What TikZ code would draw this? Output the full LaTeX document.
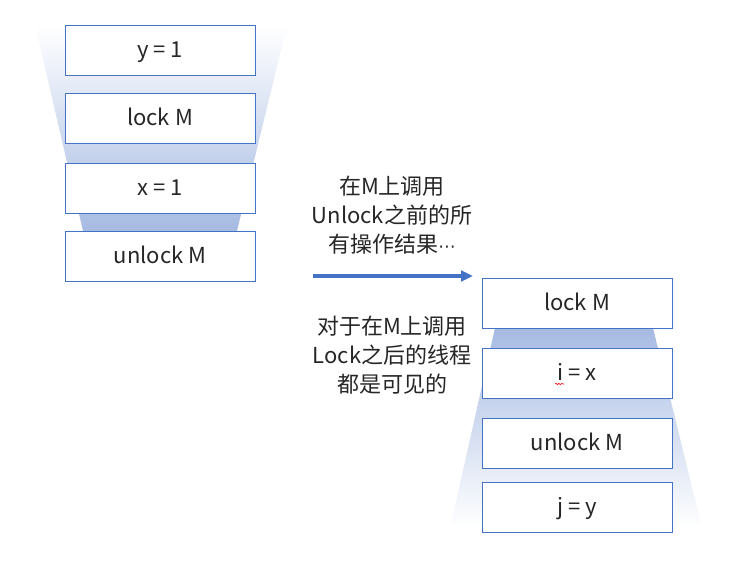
\documentclass[tikz,border=0pt]{standalone}
\usepackage{fontspec}
\setmainfont{Noto Sans CJK SC}
\newfontfamily\dejavu{DejaVu Sans}
\usetikzlibrary{arrows.meta,decorations.pathmorphing}
\definecolor{boxblue}{HTML}{4472C4}
\definecolor{shadeblue}{HTML}{A6BAE2}
\tikzset{
  opbox/.style={draw=boxblue, fill=white, line width=0.75pt, minimum width=142.5pt, minimum height=37.5pt, inner sep=0pt, text height=13pt, text depth=2pt, font=\fontsize{16.5pt}{19pt}\selectfont, text=black!85},
  note/.style={align=center, font=\fontsize{16.5pt}{21.8pt}\selectfont, text=black!85, inner sep=0pt},
}
\begin{document}
\begin{tikzpicture}[x=0.75pt,y=-0.75pt]
\useasboundingbox (0,0) rectangle (751,583);
% left funnel
\shade[top color=white, bottom color=shadeblue] (35,25) -- (287,25) -- (237,231) -- (83,231) -- cycle;
% right funnel
\shade[top color=shadeblue, bottom color=white] (495,328) -- (653,328) -- (702,528) -- (450,528) -- cycle;
% left boxes
\node[opbox] (l1) at (160,50) {y = 1};
\node[opbox] (l2) at (160,118.5) {lock M};
\node[opbox] (l3) at (160,188) {x = 1};
\node[opbox] (l4) at (160,256.5) {unlock M};
% right boxes
\node[opbox] (r1) at (577,303) {lock M};
\node[opbox] (r2) at (577,373) {i = x};
\node[opbox] (r3) at (577,443) {unlock M};
\node[opbox] (r4) at (577,507) {j = y};
% spell-check squiggle
\draw[red, line width=0.4pt, decorate, decoration={snake, amplitude=0.6pt, segment length=2.2pt}] (555,384) -- (564,384);
% notes
\node[note] (t1) at (392,215) {在M上调用\\Unlock之前的所\\有操作结果{\dejavu\fontsize{13pt}{13pt}\selectfont ⋯}};
\node[note] (t2) at (392,355) {对于在M上调用\\Lock之后的线程\\都是可见的};
% arrow
\coordinate (a1) at (313,276);
\coordinate (a2) at (473,276);
\draw[boxblue, line width=2.3pt, -{Triangle[length=9pt,width=8pt]}] (a1) -- (a2);
\end{tikzpicture}
\end{document}
